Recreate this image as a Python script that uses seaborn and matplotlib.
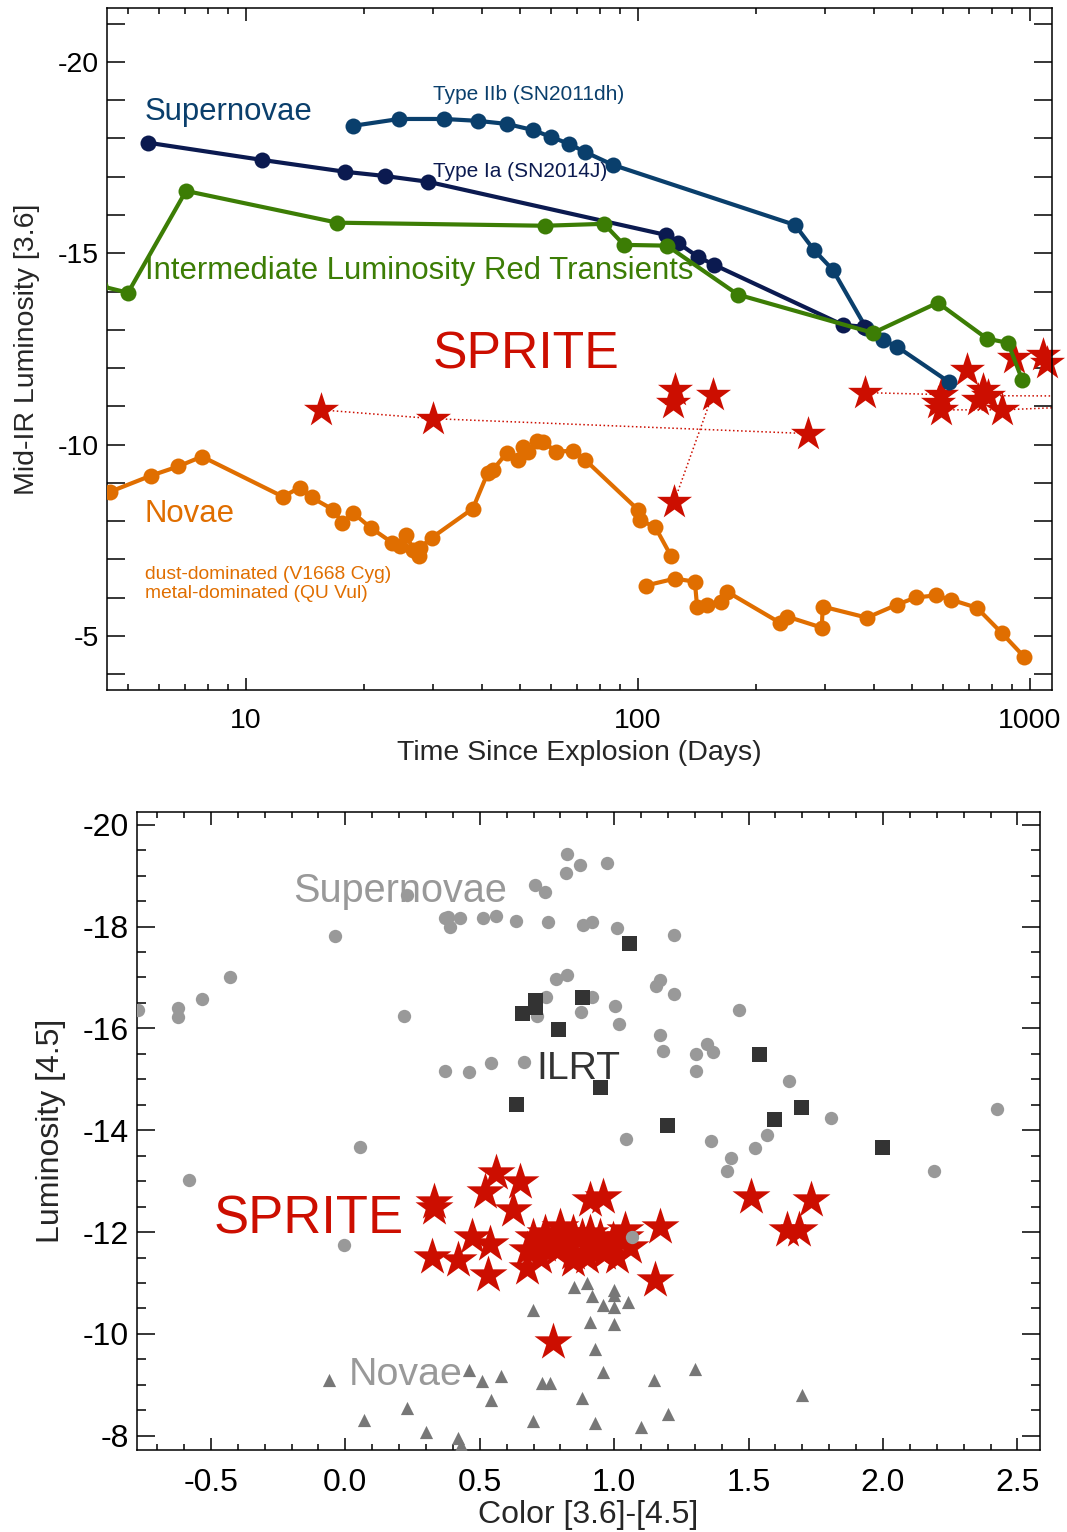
import numpy as np
import pandas as pd
import seaborn as sns
import matplotlib.pyplot as plt
import matplotlib.ticker as mtick

sns.set_style('ticks')
plt.rcParams['font.family'] = ['Liberation Sans', 'DejaVu Sans']
plt.rcParams['axes.unicode_minus'] = False

# ---------------- top panel: mid-IR light curves ----------------
# Type IIb (SN2011dh)
iib_t = [18.75, 24.6, 32.0, 39.1, 46.3, 54.0, 60.0, 66.7, 73.2, 86.3,
         251.6, 281, 314, 382, 421.7, 458, 621]
iib_L = [-18.33, -18.51, -18.51, -18.46, -18.38, -18.22, -18.04, -17.86,
         -17.65, -17.31, -15.74, -15.09, -14.57, -13.05, -12.74, -12.56, -11.64]

# Type Ia (SN2014J)
ia_t = [5.62, 10.99, 17.9, 22.6, 29.1, 117.8, 126.5, 142.2, 156.3, 333, 377]
ia_L = [-17.89, -17.44, -17.13, -17.02, -16.87, -15.48, -15.27, -14.91,
        -14.70, -13.13, -13.08]

# intermediate luminosity red transients
ilrt_t = [4.24, 5.0, 7.03, 17.1, 57.9, 81.9, 92.1, 118.6, 179.9, 398, 582,
          777, 879, 955]
ilrt_L = [-14.15, -13.97, -16.63, -15.80, -15.72, -15.77, -15.22, -15.20,
          -13.92, -12.92, -13.71, -12.77, -12.66, -11.70]

# novae, dust-dominated (V1668 Cyg)
nova1_t = [4.50, 5.72, 6.71, 7.72, 12.43, 13.7, 14.7, 16.7, 17.6, 18.75,
           20.8, 23.6, 24.7, 25.6, 26.7, 27.6, 27.8, 29.8, 37.9, 41.4, 42.7,
           46.3, 49.4, 50.9, 52.4, 55.2, 57.2, 61.8, 68.2, 73.2, 100, 101,
           110.5, 121.3]
nova1_L = [-8.77, -9.19, -9.43, -9.69, -8.64, -8.88, -8.62, -8.30, -7.96,
           -8.22, -7.83, -7.44, -7.34, -7.65, -7.26, -7.08, -7.31, -7.57,
           -8.33, -9.27, -9.35, -9.79, -9.61, -9.95, -9.82, -10.10, -10.08,
           -9.82, -9.84, -9.61, -8.30, -8.02, -7.86, -7.10]

# novae, metal-dominated (QU Vul)
nova2_t = [104.8, 124.2, 139.7, 141.5, 150, 162.9, 168.7, 230, 239.9, 294.4,
           296, 384, 458, 512, 575, 629, 732, 849, 966]
nova2_L = [-6.32, -6.50, -6.42, -5.77, -5.82, -5.90, -6.16, -5.35, -5.51,
           -5.22, -5.77, -5.48, -5.82, -6.01, -6.06, -5.95, -5.74, -5.07, -4.46]

# SPRITEs
sprite_t = [15.5, 30.0, 271, 124, 123, 155, 123.5, 379, 593, 593, 581, 690,
            759, 736, 781, 849, 910, 1079, 1105]
sprite_L = [-10.91, -10.68, -10.29, -11.44, -11.10, -11.31, -8.49, -11.36,
            -11.31, -10.91, -11.10, -11.96, -11.44, -11.18, -11.28, -10.91,
            -12.27, -12.35, -12.14]

# repeated observations of the same SPRITE (dotted links)
links_t = [[15.5, 30.0, 271], [123.5, 155], [379, 593], [593, 849, 1400],
           [781, 1400]]
links_L = [[-10.91, -10.68, -10.29], [-8.49, -11.31], [-11.36, -11.31],
           [-10.91, -10.91, -11.0], [-11.28, -11.27]]

# ---------------- bottom panel: colour-magnitude ----------------
sn_c = [-0.773, -0.621, -0.621, -0.535, -0.428, -0.037, 0.230, 0.219, 0.372,
        0.390, 0.428, 0.383, 0.513, 0.561, 0.636, 0.755, 0.706, 0.743, 0.825,
        0.822, 0.874, 0.885, 0.918, 0.372, 0.461, 0.543, 0.665, 0.747, 0.784,
        0.825, 0.714, 0.877, 0.918, 0.974, 1.011, 1.223, 1.004, 1.019, 1.171,
        1.156, 1.223, 1.465, 1.171, 1.182, 1.305, 1.346, 1.368, 1.305, 1.651,
        1.807, 2.424, 1.045, 1.361, 1.435, 1.420, 1.524, 1.569, 2.190, 1.067,
        0.056, -0.580, -0.004]
sn_M = [-16.37, -16.40, -16.23, -16.58, -17.01, -17.82, -18.62, -16.25,
        -18.17, -18.00, -18.17, -18.19, -18.17, -18.21, -18.11, -18.09,
        -18.82, -18.68, -19.43, -19.06, -19.21, -18.04, -18.08, -15.17,
        -15.15, -15.32, -15.34, -16.62, -16.97, -17.05, -16.25, -16.33,
        -16.62, -19.25, -17.98, -17.84, -16.44, -16.09, -16.95, -16.84,
        -16.68, -16.37, -15.87, -15.56, -15.50, -15.70, -15.54, -15.17,
        -14.97, -14.24, -14.42, -13.83, -13.79, -13.46, -13.20, -13.65,
        -13.91, -13.20, -11.91, -13.67, -13.03, -11.75]

ilrt_c = [0.658, 0.706, 0.706, 0.792, 0.881, 0.636, 1.056, 0.948, 1.539,
          1.695, 1.595, 1.197, 1.996]
ilrt_M = [-16.31, -16.56, -16.42, -15.99, -16.62, -14.52, -17.68, -14.85,
          -15.50, -14.46, -14.22, -14.11, -13.67]

nova_c = [-0.059, 0.071, 0.230, 0.301, 0.420, 0.431, 0.461, 0.509, 0.543,
          0.580, 0.699, 0.732, 0.762, 0.699, 0.851, 0.900, 0.918, 0.911,
          0.929, 0.881, 0.929, 0.959, 1.0, 1.0, 1.0, 1.052, 1.0, 0.959,
          1.100, 1.149, 1.201, 1.301, 1.699]
nova_M = [-9.10, -8.31, -8.55, -8.07, -7.96, -7.82, -9.29, -9.08, -8.70,
          -9.17, -10.47, -9.04, -9.04, -8.29, -10.92, -11.00, -10.75, -10.24,
          -9.71, -8.74, -8.25, -10.57, -10.86, -10.76, -10.53, -10.63, -10.20,
          -9.25, -8.17, -9.10, -8.43, -9.31, -8.80]

spr_c = [0.331, 0.331, 0.561, 0.651, 0.520, 0.625, 0.472, 0.539, 0.323,
         0.420, 0.532, 0.677, 0.773, 0.911, 0.959, 1.171, 1.152, 1.509,
         1.732, 1.643, 1.688,
         0.699, 0.743, 0.799, 0.848, 0.881, 0.911, 0.948, 0.996, 1.041,
         0.848, 0.788, 0.725, 0.677, 0.900, 0.948, 1.011, 1.059, 0.799,
         1.041, 0.848, 0.962, 0.740, 0.820, 0.900]
spr_M = [-12.59, -12.47, -13.16, -12.99, -12.79, -12.44, -11.91, -11.77,
         -11.51, -11.45, -11.16, -11.30, -9.84, -12.63, -12.69, -12.10,
         -11.06, -12.69, -12.63, -12.04, -12.04,
         -11.91, -11.98, -11.94, -11.98, -11.91, -11.98, -11.91, -11.85,
         -11.91, -11.45, -11.65, -11.51, -11.65, -11.51, -11.65, -11.51,
         -11.71, -12.10, -12.04, -11.59, -11.59, -11.75, -11.80, -11.78]

c_iib = '#0a3f6c'
c_ia = '#0b1a50'
c_ilrt = '#3c7d05'
c_nova = '#e06e00'
c_red = '#cc0e00'

fig = plt.figure(figsize=(10.67, 15.32), dpi=100)
ax1 = fig.add_axes([0.1003, 0.5496, 0.8856, 0.4452])
ax2 = fig.add_axes([0.1284, 0.0535, 0.8463, 0.4165])

# ---- top ----
ax1.set_xscale('log')
for lt, lL in zip(links_t, links_L):
    sns.lineplot(x=lt, y=lL, ax=ax1, sort=False, estimator=None,
                 color=c_red, linestyle=':', linewidth=1.1, zorder=1)
sns.scatterplot(x=sprite_t, y=sprite_L, ax=ax1, marker='*', s=26.5 ** 2,
                color=c_red, linewidth=0, zorder=2, clip_on=False)
for t, L, c in [(iib_t, iib_L, c_iib), (ia_t, ia_L, c_ia),
                (ilrt_t, ilrt_L, c_ilrt), (nova1_t, nova1_L, c_nova),
                (nova2_t, nova2_L, c_nova)]:
    sns.lineplot(x=t, y=L, ax=ax1, sort=False, estimator=None, color=c,
                 linewidth=3, marker='o', markersize=11.5,
                 markeredgewidth=0, zorder=3)

ax1.set_xlim(4.42, 1138)
ax1.set_ylim(-3.59, -21.41)
ax1.xaxis.set_major_locator(mtick.FixedLocator([10, 100, 1000]))
ax1.xaxis.set_major_formatter(mtick.FuncFormatter(lambda v, p: f'{v:g}'))
ax1.xaxis.set_minor_locator(mtick.LogLocator(subs=np.arange(2, 10)))
ax1.xaxis.set_minor_formatter(mtick.NullFormatter())
ax1.yaxis.set_major_locator(mtick.MultipleLocator(5))
ax1.yaxis.set_minor_locator(mtick.MultipleLocator(1))
ax1.tick_params(axis='both', which='both', direction='in', top=True,
                right=True, width=1.1, labelsize=20.5, colors='black')
ax1.tick_params(axis='y', which='both', length=13, pad=6)
ax1.tick_params(axis='x', which='major', length=9, pad=13)
ax1.tick_params(axis='x', which='minor', length=4.5)
ax1.set_xlabel('Time Since Explosion (Days)', fontsize=20.5, labelpad=4)
ax1.set_ylabel('Mid-IR Luminosity [3.6]', fontsize=20.5, labelpad=13)

ax1.text(5.52, -18.49, 'Supernovae', color=c_iib, fontsize=22.4)
ax1.text(30.0, -19.01, 'Type IIb (SN2011dh)', color=c_iib, fontsize=15)
ax1.text(30.0, -17.0, 'Type Ia (SN2014J)', color=c_ia, fontsize=15)
ax1.text(5.52, -14.33, 'Intermediate Luminosity Red Transients',
         color=c_ilrt, fontsize=22.4)
ax1.text(30.0, -11.98, 'SPRITE', color=c_red, fontsize=37.3)
ax1.text(5.52, -7.99, 'Novae', color=c_nova, fontsize=22.4)
ax1.text(5.52, -6.50, 'dust-dominated (V1668 Cyg)', color=c_nova,
         fontsize=13.9)
ax1.text(5.52, -6.0, 'metal-dominated (QU Vul)', color=c_nova,
         fontsize=13.9)

# ---- bottom ----
sns.scatterplot(x=spr_c, y=spr_M, ax=ax2, marker='*', s=28.7 ** 2,
                color=c_red, linewidth=0, zorder=2, clip_on=False)
sns.scatterplot(x=sn_c, y=sn_M, ax=ax2, marker='o', s=9.6 ** 2,
                color='#999999', linewidth=0, zorder=3)
sns.scatterplot(x=ilrt_c, y=ilrt_M, ax=ax2, marker='s', s=10.8 ** 2,
                color='#333333', linewidth=0, zorder=3)
sns.scatterplot(x=nova_c, y=nova_M, ax=ax2, marker='^', s=9.5 ** 2,
                color='#777777', linewidth=0, zorder=3)

ax2.set_xlim(-0.775, 2.584)
ax2.set_ylim(-7.72, -20.25)
ax2.xaxis.set_major_locator(mtick.MultipleLocator(0.5))
ax2.xaxis.set_minor_locator(mtick.MultipleLocator(0.1))
ax2.xaxis.set_major_formatter(mtick.FormatStrFormatter('%.1f'))
ax2.yaxis.set_major_locator(mtick.MultipleLocator(2))
ax2.yaxis.set_minor_locator(mtick.MultipleLocator(0.5))
ax2.tick_params(axis='both', which='both', direction='in', top=True,
                right=True, width=1.1, labelsize=23, colors='black')
ax2.tick_params(axis='y', which='major', length=13, pad=6)
ax2.tick_params(axis='y', which='minor', length=6.5)
ax2.tick_params(axis='x', which='major', length=9, pad=13)
ax2.tick_params(axis='x', which='minor', length=4.5)
ax2.set_xlabel('Color [3.6]-[4.5]', fontsize=23, labelpad=1.5)
ax2.set_ylabel('Luminosity [4.5]', fontsize=23, labelpad=12)

ax2.text(-0.193, -18.49, 'Supernovae', color='#999999', fontsize=28.5)
ax2.text(0.710, -15.01, 'ILRT', color='#333333', fontsize=28.2)
ax2.text(-0.491, -11.98, 'SPRITE', color=c_red, fontsize=37.9)
ax2.text(0.011, -9.0, 'Novae', color='#999999', fontsize=28.4)

for ax in (ax1, ax2):
    for sp in ax.spines.values():
        sp.set_linewidth(1.1)
        sp.set_color('black')

fig.savefig('out.png', dpi=100)
